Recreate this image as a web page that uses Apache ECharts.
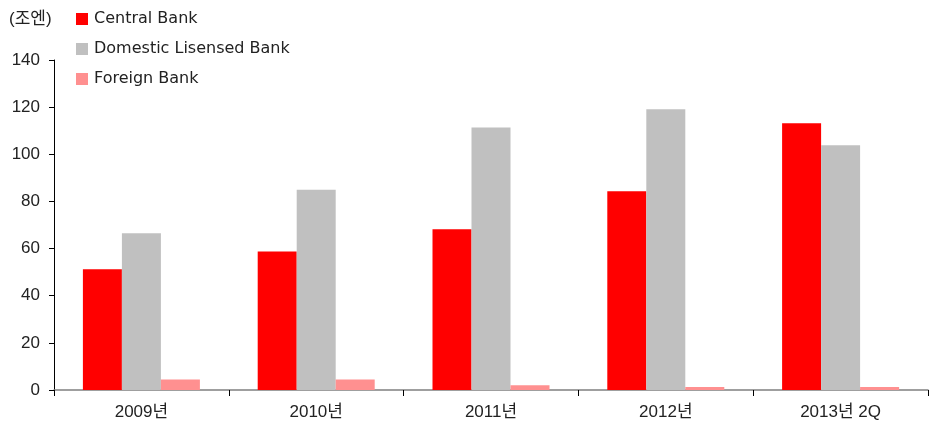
<!DOCTYPE html>
<html><head><meta charset="utf-8">
<script src="https://cdn.jsdelivr.net/npm/echarts@6/dist/echarts.min.js"></script>
<style>html,body{margin:0;padding:0;background:#fff}#c{width:929px;height:430px}</style>
</head><body><div id="c"></div>
<script>
const categories = ['2009년', '2010년', '2011년', '2012년', '2013년 2Q'];
const centralBank = [51.2, 58.8, 68.2, 84.3, 113.2];
const domesticBank = [66.5, 85.0, 111.4, 119.1, 103.8];
const foreignBank = [4.5, 4.5, 2.0, 1.3, 1.3];
const yTicks = [0, 20, 40, 60, 80, 100, 120, 140];
const unitLabel = '(조엔)';

const FONT_L = "'DejaVu Sans', 'Noto Sans CJK KR', sans-serif";
const FONT_A = "'Liberation Sans', 'Noto Sans CJK KR', sans-serif";
const chart = echarts.init(document.getElementById('c'), null, {renderer: 'canvas'});
chart.setOption({
  animation: false,
  backgroundColor: '#fff',
  textStyle: {fontFamily: FONT_A},
  graphic: [{type: 'text', left: 9, top: 11, style: {text: unitLabel, font: '17px ' + FONT_A, fill: '#222'}}],
  legend: {
    orient: 'vertical', left: 71, top: 5, itemWidth: 12, itemHeight: 12, itemGap: 12,
    icon: 'rect',
    textStyle: {fontSize: 16, color: '#222', fontFamily: FONT_L, lineHeight: 18, padding: [0,0,0,1]},
    data: ['Central Bank', 'Domestic Lisensed Bank', 'Foreign Bank']
  },
  grid: {left: 54, right: 1, top: 60, bottom: 40, containLabel: false},
  xAxis: {
    type: 'category', data: categories,
    axisLine: {lineStyle: {color: '#808080', width: 1.5}},
    axisTick: {show: true, length: 6, lineStyle: {color: '#000'}},
    axisLabel: {fontSize: 17, color: '#222', margin: 14, fontFamily: FONT_A}
  },
  yAxis: {
    type: 'value', min: yTicks[0], max: yTicks[yTicks.length-1], interval: 20,
    splitLine: {show: false},
    axisLine: {show: true, lineStyle: {color: '#000'}},
    axisTick: {show: true, length: 5, lineStyle: {color: '#000'}},
    axisLabel: {fontSize: 17, color: '#222', margin: 14, fontFamily: FONT_A}
  },
  series: [
    {name: 'Central Bank', type: 'bar', data: centralBank, itemStyle: {color: '#ff0000'}, barWidth: 39, barGap: '0%'},
    {name: 'Domestic Lisensed Bank', type: 'bar', data: domesticBank, itemStyle: {color: '#c0c0c0'}, barWidth: 39, barGap: '0%'},
    {name: 'Foreign Bank', type: 'bar', data: foreignBank, itemStyle: {color: '#ff9090'}, barWidth: 39, barGap: '0%'}
  ]
});
</script></body></html>
